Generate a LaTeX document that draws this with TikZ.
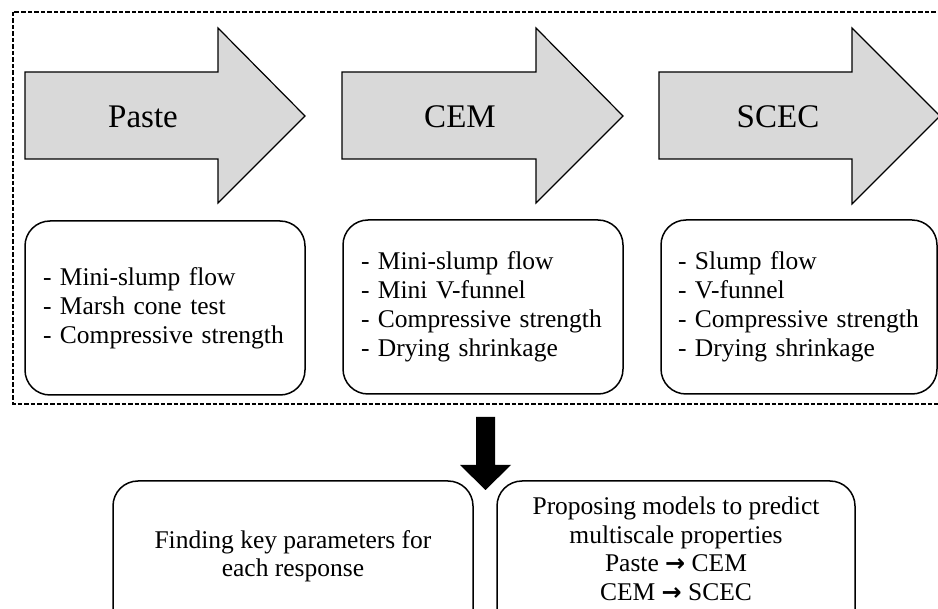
\documentclass[tikz,border=0pt]{standalone}
\usepackage{fontspec}
\setmainfont{Liberation Serif}
\newfontfamily\arrowfont{DejaVu Sans}
\newcommand{\rarr}{{\arrowfont\bfseries\fontsize{24}{24}\selectfont →}}
\begin{document}
\begin{tikzpicture}[x=1pt,y=-1pt,
  bigarrow/.style={draw=black,line width=1.2pt,fill=black!15,line join=miter},
  arrlabel/.style={font=\fontsize{33}{36}\selectfont,anchor=base,inner sep=0pt},
  testbox/.style={draw=black,line width=1.5pt,rounded corners=25pt,align=left,
    font=\fontsize{25.5}{29}\selectfont,minimum height=174pt,inner ysep=0pt},
  btmbox/.style={draw=black,line width=1.5pt,rounded corners=25pt,minimum height=160pt},
  btmtext/.style={align=center,font=\fontsize{25.5}{28.5}\selectfont,inner sep=0pt},
  dashbox/.style={draw=black,line width=1.2pt,dash pattern=on 4.5pt off 2pt}]
\useasboundingbox (0,0) rectangle (938,609);
\clip (0,0) rectangle (938,609);
% dashed frame
\draw[dashbox] (13,12) rectangle (950,404);
% big arrows
\draw[bigarrow] (25,72) -- (218,72) -- (218,28) -- (305,116) -- (218,203) -- (218,159) -- (25,159) -- cycle;
\node[arrlabel] (paste) at (143,128) {Paste};
\draw[bigarrow] (342,72) -- (536,72) -- (536,28) -- (623,116) -- (536,203) -- (536,159) -- (342,159) -- cycle;
\node[arrlabel] (cem) at (460,128) {CEM};
\draw[bigarrow] (659,72) -- (852,72) -- (852,28) -- (940,116) -- (852,204) -- (852,159) -- (659,159) -- cycle;
\node[arrlabel] (scec) at (778,128) {SCEC};
% test boxes
\node[testbox,text width=244pt,inner xsep=18pt] (pbox) at (165,308)
  {- Mini-slump flow\\- Marsh cone test\\- Compressive strength};
\node[testbox,text width=244pt,inner xsep=18pt] (cbox) at (483,307)
  {- Mini-slump flow\\- Mini V-funnel\\- Compressive strength\\- Drying shrinkage};
\node[testbox,text width=242pt,inner xsep=17pt] (sbox) at (799,307)
  {- Slump flow\\- V-funnel\\- Compressive strength\\- Drying shrinkage};
% down arrow
\fill[black] (476,417) -- (495,417) -- (495,465) -- (511,465) -- (485.5,490) -- (460,465) -- (476,465) -- cycle;
% bottom boxes
\node[btmbox,minimum width=360pt] (find) at (293,561) {};
\node[btmbox,minimum width=358pt] (prop) at (676,561) {};
\node[btmtext] (findtxt) at (293,556) {Finding key parameters for\\each response};
\node[btmtext] (proptxt) at (676,549) {Proposing models to predict\\multiscale properties\\Paste \rarr{} CEM\\CEM \rarr{} SCEC};
\end{tikzpicture}
\end{document}
